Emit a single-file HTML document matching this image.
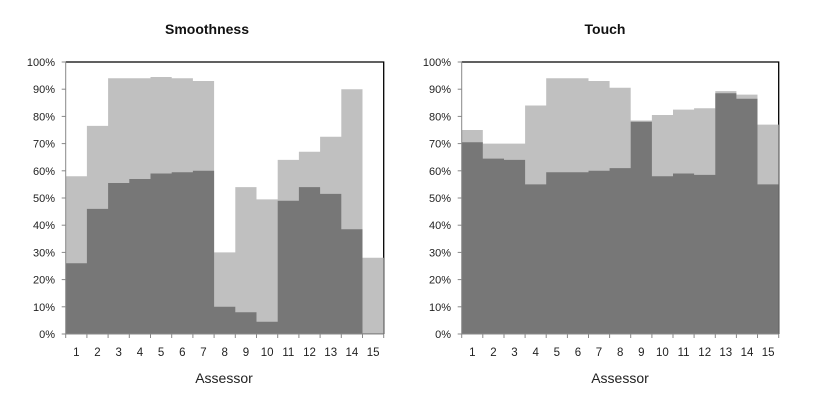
<!DOCTYPE html>
<html><head><meta charset="utf-8"><style>
html,body{margin:0;padding:0;background:#fff;}
svg{display:block;font-family:"Liberation Sans",Arial,sans-serif;}
</style></head><body>
<svg width="827" height="412" viewBox="0 0 827 412">
<rect width="827" height="412" fill="#fff"/>
<text x="207" y="34" font-size="14" font-weight="bold" text-anchor="middle" fill="#111">Smoothness</text>
<text x="605" y="34" font-size="14" font-weight="bold" text-anchor="middle" fill="#111">Touch</text>

<!-- left chart -->
<path d="M65.7,62 H383.7 V334" fill="none" stroke="#000" stroke-width="1.3"/>
<path d="M65.7,334 V176.2 H86.9 V125.9 H108.1 V78.3 H129.3 V78.3 H150.5 V77.0 H171.7 V78.3 H192.9 V81.0 H214.1 V252.4 H235.3 V187.1 H256.5 V199.4 H277.7 V159.9 H298.9 V151.8 H320.1 V136.8 H341.3 V89.2 H362.5 V257.8 H383.7 V334 Z" fill="#c0c0c0"/>
<path d="M65.7,334 V263.3 H86.9 V208.9 H108.1 V183.0 H129.3 V179.0 H150.5 V173.5 H171.7 V172.2 H192.9 V170.8 H214.1 V306.8 H235.3 V312.2 H256.5 V321.8 H277.7 V200.7 H298.9 V187.1 H320.1 V193.9 H341.3 V229.3 H362.5 V333.2 H383.7 V334 Z" fill="#777"/>
<g stroke="#888" stroke-width="1">
<line x1="65.7" y1="62" x2="65.7" y2="338"/>
<line x1="61.7" y1="334" x2="383.7" y2="334"/>
<line x1="61.7" y1="62" x2="65.7" y2="62"/><line x1="61.7" y1="89.2" x2="65.7" y2="89.2"/><line x1="61.7" y1="116.4" x2="65.7" y2="116.4"/><line x1="61.7" y1="143.6" x2="65.7" y2="143.6"/><line x1="61.7" y1="170.8" x2="65.7" y2="170.8"/><line x1="61.7" y1="198" x2="65.7" y2="198"/><line x1="61.7" y1="225.2" x2="65.7" y2="225.2"/><line x1="61.7" y1="252.4" x2="65.7" y2="252.4"/><line x1="61.7" y1="279.6" x2="65.7" y2="279.6"/><line x1="61.7" y1="306.8" x2="65.7" y2="306.8"/>
<line x1="86.9" y1="334" x2="86.9" y2="338"/><line x1="108.1" y1="334" x2="108.1" y2="338"/><line x1="129.3" y1="334" x2="129.3" y2="338"/><line x1="150.5" y1="334" x2="150.5" y2="338"/><line x1="171.7" y1="334" x2="171.7" y2="338"/><line x1="192.9" y1="334" x2="192.9" y2="338"/><line x1="214.1" y1="334" x2="214.1" y2="338"/><line x1="235.3" y1="334" x2="235.3" y2="338"/><line x1="256.5" y1="334" x2="256.5" y2="338"/><line x1="277.7" y1="334" x2="277.7" y2="338"/><line x1="298.9" y1="334" x2="298.9" y2="338"/><line x1="320.1" y1="334" x2="320.1" y2="338"/><line x1="341.3" y1="334" x2="341.3" y2="338"/><line x1="362.5" y1="334" x2="362.5" y2="338"/><line x1="383.7" y1="334" x2="383.7" y2="338"/>
</g>
<g font-size="11" fill="#222" text-anchor="end">
<text x="55" y="66">100%</text><text x="55" y="93.2">90%</text><text x="55" y="120.4">80%</text><text x="55" y="147.6">70%</text><text x="55" y="174.8">60%</text><text x="55" y="202">50%</text><text x="55" y="229.2">40%</text><text x="55" y="256.4">30%</text><text x="55" y="283.6">20%</text><text x="55" y="310.8">10%</text><text x="55" y="338">0%</text>
</g>
<g font-size="11.5" fill="#222" text-anchor="middle">
<text x="76.3" y="356">1</text><text x="97.5" y="356">2</text><text x="118.7" y="356">3</text><text x="139.9" y="356">4</text><text x="161.1" y="356">5</text><text x="182.3" y="356">6</text><text x="203.5" y="356">7</text><text x="224.7" y="356">8</text><text x="245.9" y="356">9</text><text x="267.1" y="356">10</text><text x="288.3" y="356">11</text><text x="309.5" y="356">12</text><text x="330.7" y="356">13</text><text x="351.9" y="356">14</text><text x="373.1" y="356">15</text>
</g>
<text x="224" y="383" font-size="14" text-anchor="middle" fill="#222">Assessor</text>

<!-- right chart -->
<path d="M461.7,62 H778.7 V334" fill="none" stroke="#000" stroke-width="1.3"/>
<path d="M461.7,334 V130.0 H482.8 V143.6 H504.0 V143.6 H525.1 V105.5 H546.2 V78.3 H567.4 V78.3 H588.5 V81.0 H609.6 V87.8 H630.7 V120.5 H651.9 V115.0 H673.0 V109.6 H694.1 V108.2 H715.3 V91.1 H736.4 V94.6 H757.5 V124.6 H778.7 V334 Z" fill="#c0c0c0"/>
<path d="M461.7,334 V142.2 H482.8 V158.6 H504.0 V159.9 H525.1 V184.4 H546.2 V172.2 H567.4 V172.2 H588.5 V170.8 H609.6 V168.1 H630.7 V121.8 H651.9 V176.2 H673.0 V173.5 H694.1 V174.9 H715.3 V93.3 H736.4 V98.7 H757.5 V184.4 H778.7 V334 Z" fill="#777"/>
<g stroke="#888" stroke-width="1">
<line x1="461.7" y1="62" x2="461.7" y2="338"/>
<line x1="457.7" y1="334" x2="778.7" y2="334"/>
<line x1="457.7" y1="62" x2="461.7" y2="62"/><line x1="457.7" y1="89.2" x2="461.7" y2="89.2"/><line x1="457.7" y1="116.4" x2="461.7" y2="116.4"/><line x1="457.7" y1="143.6" x2="461.7" y2="143.6"/><line x1="457.7" y1="170.8" x2="461.7" y2="170.8"/><line x1="457.7" y1="198" x2="461.7" y2="198"/><line x1="457.7" y1="225.2" x2="461.7" y2="225.2"/><line x1="457.7" y1="252.4" x2="461.7" y2="252.4"/><line x1="457.7" y1="279.6" x2="461.7" y2="279.6"/><line x1="457.7" y1="306.8" x2="461.7" y2="306.8"/>
<line x1="482.8" y1="334" x2="482.8" y2="338"/><line x1="504.0" y1="334" x2="504.0" y2="338"/><line x1="525.1" y1="334" x2="525.1" y2="338"/><line x1="546.2" y1="334" x2="546.2" y2="338"/><line x1="567.4" y1="334" x2="567.4" y2="338"/><line x1="588.5" y1="334" x2="588.5" y2="338"/><line x1="609.6" y1="334" x2="609.6" y2="338"/><line x1="630.7" y1="334" x2="630.7" y2="338"/><line x1="651.9" y1="334" x2="651.9" y2="338"/><line x1="673.0" y1="334" x2="673.0" y2="338"/><line x1="694.1" y1="334" x2="694.1" y2="338"/><line x1="715.3" y1="334" x2="715.3" y2="338"/><line x1="736.4" y1="334" x2="736.4" y2="338"/><line x1="757.5" y1="334" x2="757.5" y2="338"/><line x1="778.7" y1="334" x2="778.7" y2="338"/>
</g>
<g font-size="11" fill="#222" text-anchor="end">
<text x="451" y="66">100%</text><text x="451" y="93.2">90%</text><text x="451" y="120.4">80%</text><text x="451" y="147.6">70%</text><text x="451" y="174.8">60%</text><text x="451" y="202">50%</text><text x="451" y="229.2">40%</text><text x="451" y="256.4">30%</text><text x="451" y="283.6">20%</text><text x="451" y="310.8">10%</text><text x="451" y="338">0%</text>
</g>
<g font-size="11.5" fill="#222" text-anchor="middle">
<text x="472.3" y="356">1</text><text x="493.4" y="356">2</text><text x="514.5" y="356">3</text><text x="535.7" y="356">4</text><text x="556.8" y="356">5</text><text x="577.9" y="356">6</text><text x="599.0" y="356">7</text><text x="620.2" y="356">8</text><text x="641.3" y="356">9</text><text x="662.4" y="356">10</text><text x="683.6" y="356">11</text><text x="704.7" y="356">12</text><text x="725.8" y="356">13</text><text x="747.0" y="356">14</text><text x="768.1" y="356">15</text>
</g>
<text x="620" y="383" font-size="14" text-anchor="middle" fill="#222">Assessor</text>
</svg>
</body></html>
